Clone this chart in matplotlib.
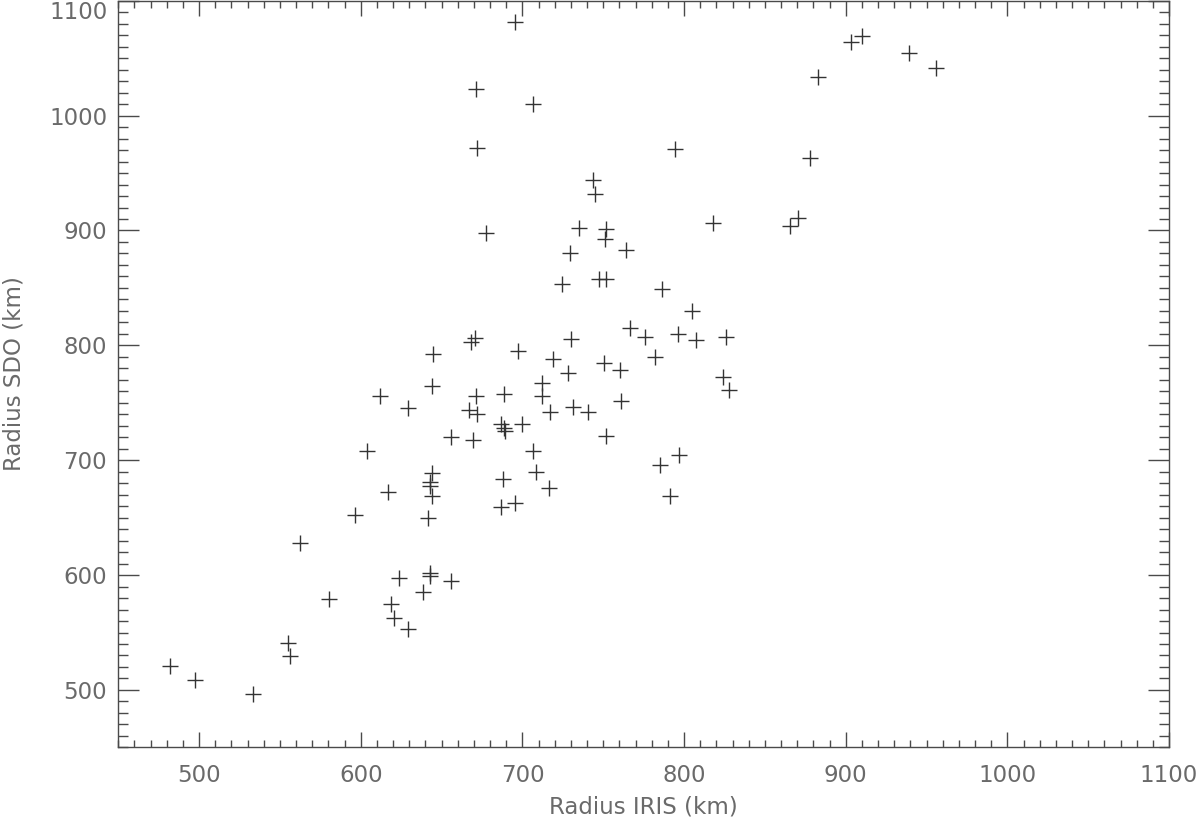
import matplotlib
matplotlib.use("Agg")
import matplotlib.pyplot as plt
from matplotlib.ticker import MultipleLocator

# Radius measured with IRIS (km)
radius_iris = [
    695.3, 671.0, 706.3, 671.8, 677.2,
    903.1, 910.1, 939.4, 956.1, 882.9, 794.5, 877.6, 743.8, 744.6, 734.9,
    751.6, 750.8, 764.2, 729.3, 818.0, 865.4, 870.5,
    670.8, 668.1, 644.8, 697.0, 643.8, 611.8, 629.0, 671.0, 688.3, 711.8,
    711.8, 667.1, 671.8, 686.5, 688.5, 689.1, 699.7, 655.9, 669.2, 604.0,
    706.3, 643.8, 643.0, 643.0, 644.0, 708.1, 687.7, 616.8, 596.2, 641.3,
    686.7, 695.3,
    724.6, 747.1, 751.8, 786.4, 805.0, 766.4, 775.7, 796.1, 807.3, 826.0,
    730.1, 718.8, 727.9, 750.2, 760.3, 781.9, 824.0, 827.5, 717.2, 731.0,
    740.7, 761.1, 751.8, 716.4, 785.0, 796.9, 791.0,
    562.6, 623.4, 643.0, 643.0, 655.8, 638.4, 580.1, 618.6, 620.5, 629.2,
    555.1, 556.2, 482.0, 497.6, 533.3,
]

# Radius measured with SDO (km)
radius_sdo = [
    1081.8, 1023.2, 1009.9, 972.1, 897.6,
    1064.1, 1069.3, 1054.3, 1041.7, 1033.9, 970.7, 962.8, 943.7, 931.8, 902.4,
    901.6, 892.3, 883.0, 880.1, 906.3, 903.9, 910.6,
    806.1, 803.2, 792.2, 795.1, 764.9, 756.2, 745.7, 756.2, 757.4, 767.0,
    756.2, 743.7, 740.0, 731.5, 728.3, 725.7, 731.5, 720.0, 717.9, 708.3,
    708.0, 688.9, 681.3, 677.3, 669.1, 689.8, 683.9, 672.6, 652.3, 650.0,
    659.0, 662.8,
    853.4, 858.0, 858.0, 849.1, 830.2, 815.1, 807.0, 810.1, 804.7, 807.0,
    805.5, 788.4, 775.7, 784.6, 778.5, 790.1, 772.7, 760.9, 742.0, 746.1,
    742.0, 751.6, 721.1, 676.1, 695.8, 704.3, 668.9,
    627.7, 597.7, 602.1, 599.2, 594.9, 585.0, 578.9, 574.6, 562.4, 552.8,
    540.6, 529.8, 520.9, 508.9, 496.2,
]

x_ticks = [500, 600, 700, 800, 900, 1000, 1100]
y_ticks = [500, 600, 700, 800, 900, 1000, 1100]
x_label = "Radius IRIS (km)"
y_label = "Radius SDO (km)"

plt.rcParams['font.family'] = ['DejaVu Sans']
ink = '#4a4a4a'
txt = '#6a6a6a'

fig = plt.figure(figsize=(12, 8.25), dpi=100)
ax = fig.add_axes([0.0986, 0.0941, 0.8756, 0.905])

ax.plot(radius_iris, radius_sdo, linestyle='none', marker='+',
        markersize=11, markeredgewidth=1.0, color='#333333')

ax.set_xlim(450, 1100)
ax.set_ylim(450, 1100)
ax.set_xticks(x_ticks)
ax.set_yticks(y_ticks)
ax.xaxis.set_minor_locator(MultipleLocator(10))
ax.yaxis.set_minor_locator(MultipleLocator(10))

for s in ax.spines.values():
    s.set_color(ink)
    s.set_linewidth(1.0)

ax.tick_params(axis='x', which='major', direction='in', length=10.5, width=1.0,
               color=ink, top=True, bottom=True, labelsize=16.5, labelcolor=txt, pad=12)
ax.tick_params(axis='x', which='minor', direction='in', length=5.3, width=1.0,
               color=ink, top=True, bottom=True)
ax.tick_params(axis='y', which='major', direction='in', length=15, width=1.0,
               color=ink, left=True, right=True, labelsize=16.5, labelcolor=txt, pad=8)
ax.tick_params(axis='y', which='minor', direction='in', length=7.5, width=1.0,
               color=ink, left=True, right=True)

# keep the top y tick label inside the figure, as in the reference
fig.canvas.draw()
ylabels = ax.get_yticklabels()
ylabels[-1].set_verticalalignment('top')

ax.set_xlabel(x_label, fontsize=16.5, color=txt, labelpad=6)
ax.set_ylabel(y_label, fontsize=16.5, color=txt)
ax.yaxis.set_label_coords(-0.088, 0.5)

fig.savefig("out.png", dpi=100)
